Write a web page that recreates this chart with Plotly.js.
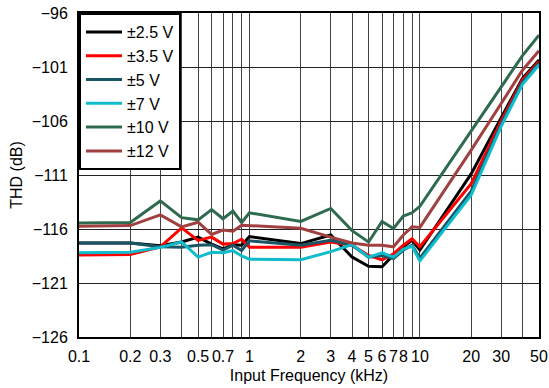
<!DOCTYPE html>
<html>
<head>
<meta charset="utf-8">
<script src="https://cdn.plot.ly/plotly-3.0.1.min.js"></script>
<style>html,body{margin:0;padding:0;background:#fff;}#chart{width:549px;height:388px;}</style>
</head>
<body>
<div id="chart"></div>
<script>
// Input frequency (kHz)
const freq = [0.1,0.2,0.3,0.4,0.5,0.6,0.7,0.8,0.9,1,2,3,4,5,6,7,8,9,10,20,30,40,50];

// THD (dB) per supply voltage
const thd_2p5V = [-117.3,-117.3,-117.55,-117.2,-116.75,-117.4,-117.85,-117.45,-117.5,-116.7,-117.35,-116.55,-118.6,-119.45,-119.5,-118.4,-117.65,-117.05,-117.95,-110.9,-105.7,-102.05,-100.35];
const thd_3p5V = [-118.4,-118.35,-117.65,-115.9,-117.05,-116.75,-117.4,-117.35,-116.95,-117.7,-117.7,-117.2,-117.5,-118.45,-118.85,-118.3,-117.5,-116.9,-117.65,-111.8,-106.0,-102.2,-100.5];
const thd_5V   = [-117.3,-117.3,-117.65,-117.7,-117.5,-117.45,-117.95,-117.5,-118.0,-117.1,-117.5,-117.05,-117.5,-118.6,-118.45,-118.75,-117.95,-117.5,-118.7,-112.5,-106.3,-102.4,-100.65];
const thd_7V   = [-118.2,-118.15,-117.7,-117.2,-118.6,-118.15,-118.2,-118.0,-118.5,-118.8,-118.85,-118.1,-117.45,-118.6,-118.2,-118.6,-117.85,-117.6,-118.95,-112.85,-106.5,-102.6,-100.8];
const thd_10V  = [-115.45,-115.4,-113.4,-114.95,-115.15,-114.2,-115.05,-114.35,-115.4,-114.5,-115.3,-114.1,-116.15,-117.2,-115.3,-115.95,-114.8,-114.5,-113.9,-106.9,-102.9,-99.95,-98.05];
const thd_12V  = [-115.75,-115.68,-114.7,-115.8,-115.37,-116.5,-116.1,-116.2,-115.65,-115.68,-115.93,-116.75,-117.3,-117.5,-117.5,-117.65,-116.55,-115.8,-115.85,-108.7,-104.4,-101.3,-99.5];

const seriesNames = ['±2.5 V','±3.5 V','±5 V','±7 V','±10 V','±12 V'];
const seriesColors = ['#000000','#ff0000','#1a5566','#10bccc','#2e6b4e','#a04040'];
const seriesData = [thd_2p5V, thd_3p5V, thd_5V, thd_7V, thd_10V, thd_12V];

// Axis ticks
const xTickVals = [0.1,0.2,0.3,0.5,0.7,1,2,3,4,5,6,7,8,10,20,30,50];
const xTickText = ['0.1','0.2','0.3','0.5','0.7','1','2','3','4','5','6','7','8','10','20','30','50'];
const xGridVals = [0.2,0.3,0.4,0.5,0.6,0.7,0.8,0.9,1,2,3,4,5,6,7,8,9,10,20,30,40];
const yTickVals = [-126,-121,-116,-111,-106,-101,-96];

const traces = seriesData.map((d, i) => ({
  x: freq, y: d, type: 'scatter', mode: 'lines', name: seriesNames[i],
  line: {color: seriesColors[i], width: 3}
}));

const fnt = {family: 'Arial, "Liberation Sans", sans-serif', size: 16, color: '#000'};

const layout = {
  width: 549, height: 388,
  margin: {l: 79, r: 10, t: 13, b: 51},
  paper_bgcolor: '#fff', plot_bgcolor: '#fff',
  font: fnt,
  showlegend: true,
  legend: {x: 0, y: 1, xanchor: 'left', yanchor: 'top', bgcolor: '#fff', bordercolor: '#000', borderwidth: 2, font: fnt, itemwidth: 36},
  xaxis: {
    type: 'log', range: [Math.log10(0.1), Math.log10(50)],
    tickmode: 'array', tickvals: xTickVals, ticktext: xTickText, tickangle: 0,
    ticks: '', showgrid: false, zeroline: false,
    minor: {tickmode: 'array', tickvals: xGridVals, showgrid: true, gridcolor: '#444', gridwidth: 1, ticks: ''},
    showline: true, mirror: true, linecolor: '#000', linewidth: 2,
    tickfont: fnt, ticklabelstandoff: 4,
    title: {text: 'Input Frequency (kHz)', font: fnt, standoff: 6}
  },
  yaxis: {
    range: [-126, -96], tickmode: 'array', tickvals: yTickVals,
    ticks: '', showgrid: true, gridcolor: '#222', gridwidth: 1, zeroline: false,
    showline: true, mirror: true, linecolor: '#000', linewidth: 2,
    tickfont: fnt, ticklabelstandoff: 6,
    title: {text: 'THD (dB)', font: fnt, standoff: 5}
  }
};

Plotly.newPlot('chart', traces, layout, {displayModeBar: false, staticPlot: true});
</script>
</body>
</html>
